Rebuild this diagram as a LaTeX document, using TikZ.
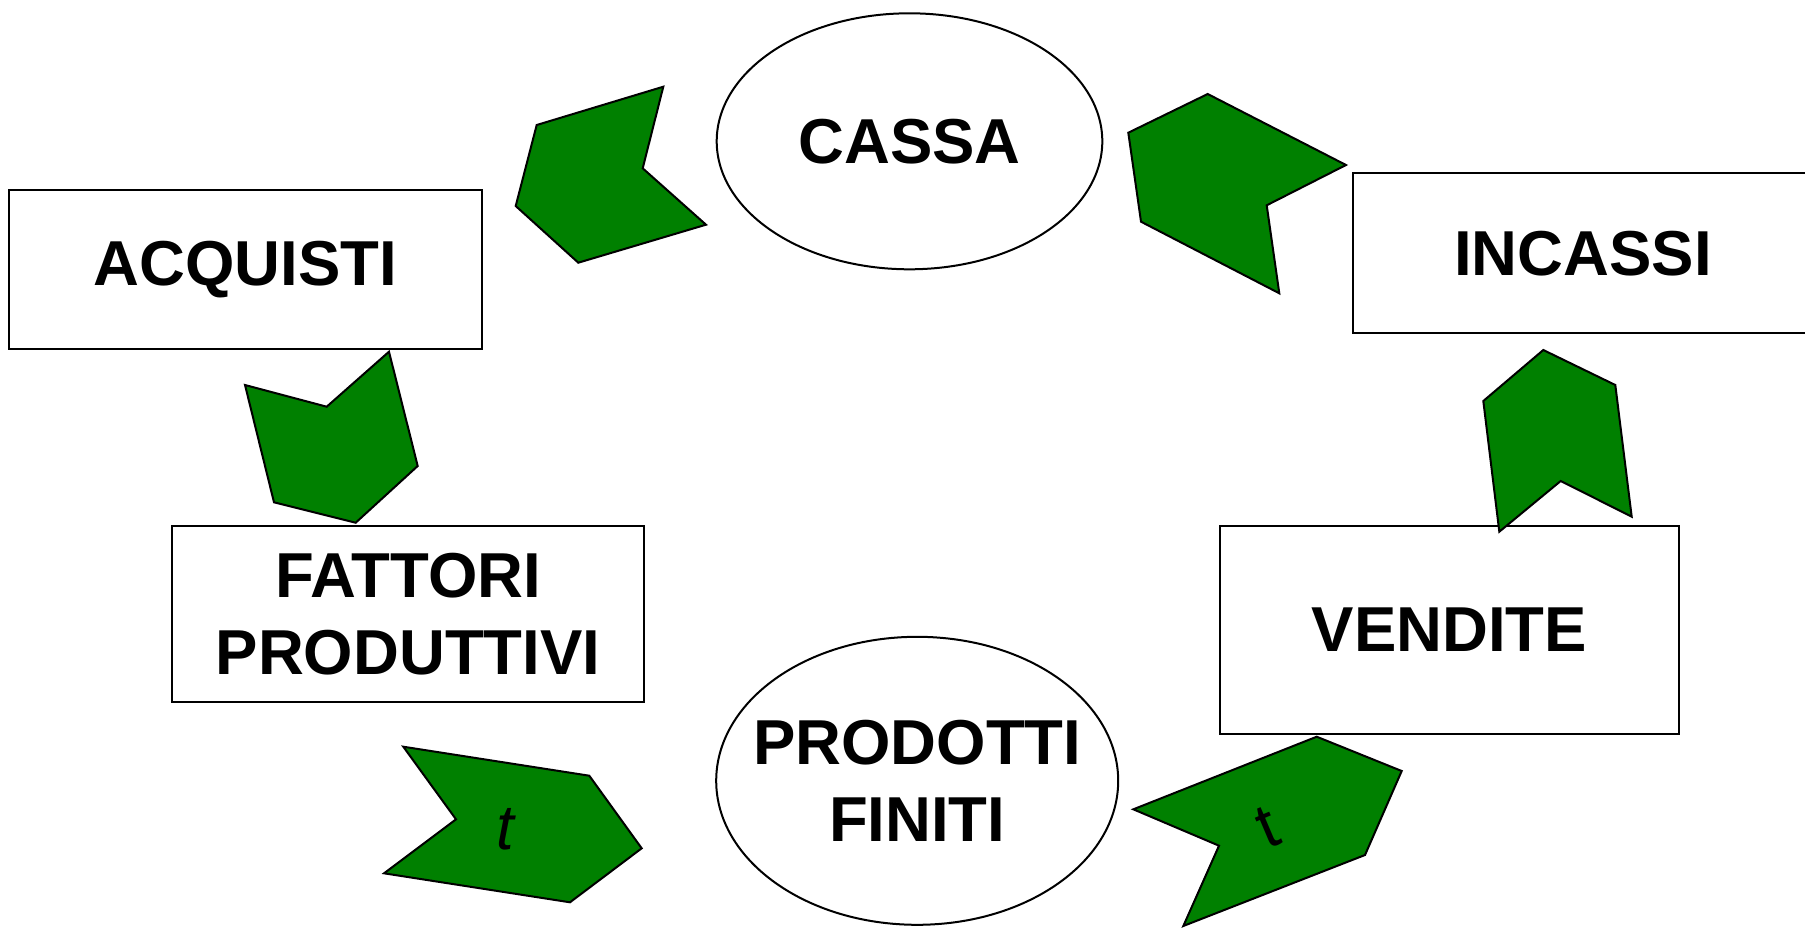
\documentclass[tikz,border=0pt]{standalone}
\usepackage{fontspec}
\setmainfont{Liberation Sans}
\usetikzlibrary{shapes.geometric}
\definecolor{chevgreen}{HTML}{008000}
\tikzset{
  box/.style={draw=black, line width=2pt, fill=white, rectangle, inner sep=0pt, align=center,
    font=\bfseries\fontsize{63.5}{77}\selectfont},
  oval/.style={draw=black, line width=2pt, fill=white, ellipse, inner sep=0pt},
  lbl/.style={align=center, inner sep=0pt, font=\bfseries\fontsize{63.5}{77}\selectfont},
  chev/.style={draw=black, line width=2pt, fill=chevgreen, line join=miter},
  tlbl/.style={inner sep=0pt, font=\fontsize{63.5}{70}\selectfont}
}
\begin{document}
\begin{tikzpicture}[x=1pt, y=-1pt]
\useasboundingbox (0,0) rectangle (1805,927);
\clip (0,0) rectangle (1805,927);
\fill[white] (0,0) rectangle (1805,927);

% boxes
\node[box, minimum width=472.4pt, minimum height=159.3pt] (acq) at (245.5,269.7) {ACQUISTI};
\node[box, minimum width=472.6pt, minimum height=175.7pt] (fat) at (408,613.8) {FATTORI\\PRODUTTIVI};
\node[box, minimum width=459.4pt, minimum height=160pt] (inc) at (1583,253.3) {INCASSI};
\node[box, minimum width=459pt, minimum height=208pt] (ven) at (1449.5,630) {VENDITE};

% ellipses
\node[oval, minimum width=385.6pt, minimum height=256pt,
  label={[lbl]center:CASSA}] (cassa) at (909.5,141.3) {};
\node[oval, minimum width=402pt, minimum height=288pt,
  label={[lbl]center:PRODOTTI\\FINITI}] (prod) at (917.2,780.8) {};

% chevrons
\draw[chev] (536.7,125) -- (663.3,86.7) -- (642.7,168.3) -- (706,224.7) -- (578.3,262.7) -- (515.7,206) -- cycle;
\draw[chev] (1128.3,132.7) -- (1207.7,94) -- (1346,165) -- (1266.7,205.3) -- (1279.3,293.3) -- (1141,221.7) -- cycle;
\draw[chev] (245,385) -- (326.7,406.7) -- (389,351.7) -- (417.7,466) -- (355.7,522.7) -- (274,502.3) -- cycle;
\draw[chev] (1483.3,401) -- (1543.3,350) -- (1615.3,385) -- (1631.7,516.7) -- (1560.7,481) -- (1499.3,531.7) -- cycle;
\draw[chev] (403.3,746.7) -- (589.3,775.7) -- (641.7,848.3) -- (570,902.3) -- (384,873.3) -- (456,819.3) -- cycle;
\draw[chev] (1316.7,736.7) -- (1401.7,771) -- (1365,855) -- (1183.3,926) -- (1219,845.7) -- (1133.3,809.3) -- cycle;

% t labels
\node[tlbl, font=\itshape\fontsize{63.5}{70}\selectfont] (t1) at (505,829) {t};
\node[tlbl, rotate=23] (t2) at (1268,827) {t};
\end{tikzpicture}
\end{document}
